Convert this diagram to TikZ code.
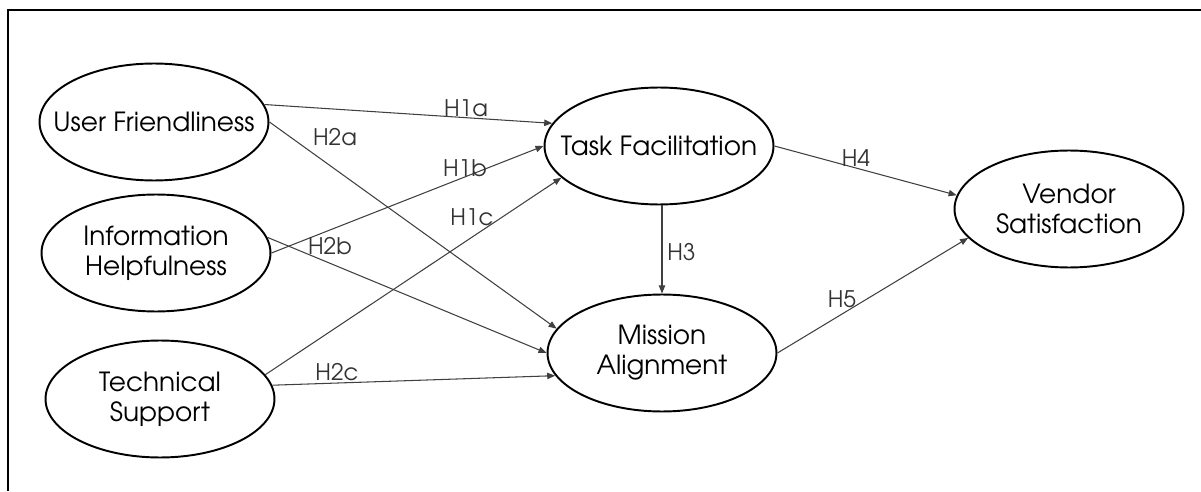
\documentclass[tikz,border=0pt]{standalone}
\usepackage{fontspec}
\setmainfont{TeX Gyre Adventor}
\usetikzlibrary{shapes.geometric,arrows.meta}

\tikzset{
  construct/.style={ellipse, draw, line width=1.1pt, minimum width=4.58cm,
    minimum height=2.34cm, inner xsep=-22pt, inner ysep=0pt, align=center,
    font=\fontsize{15}{17}\selectfont},
  link/.style={-{Triangle[length=4.6pt,width=3.6pt]}, line width=0.6pt, draw=black!75},
  hyp/.style={inner sep=0pt, text=black!80, font=\fontsize{13}{15}\selectfont}
}

\begin{document}
\begin{tikzpicture}[x=0.02cm,y=0.02cm]
  \useasboundingbox (0,0) rectangle (1201,491);
  % frame
  \draw[line width=1.1pt] (8,0) -- (8,481) -- (1201,481);
  % constructs
  \node[construct] (uf) at (154,369) {User Friendliness};
  \node[construct] (ih) at (156,238) {Information\\Helpfulness};
  \node[construct] (ts) at (160,92) {Technical\\Support};
  \node[construct] (tf) at (659,345) {Task Facilitation};
  \node[construct] (ma) at (662,138) {Mission\\Alignment};
  \node[construct] (vs) at (1069,282) {Vendor\\Satisfaction};
  % hypotheses
  \draw[link] (uf.9) -- (tf.168);
  \draw[link] (uf.east) -- (ma.167);
  \draw[link] (ih.east) -- (tf.west);
  \draw[link] (ih.8) -- (ma.west);
  \draw[link] (ts.13) -- (tf.198);
  \draw[link] (ts.7) -- (ma.192);
  \draw[link] (tf.south -| ma.north) -- (ma.north);
  \draw[link] (tf.east) -- (vs.173);
  \draw[link] (ma.east) -- (vs.196);
  % labels
  \node[hyp] (h1a) at (466,383) {H1a};
  \node[hyp] (h2a) at (335,354) {H2a};
  \node[hyp] (h1b) at (465,323) {H1b};
  \node[hyp] (h2b) at (330,245) {H2b};
  \node[hyp] (h1c) at (472,274) {H1c};
  \node[hyp] (h2c) at (337,119) {H2c};
  \node[hyp, anchor=west] (h3) at (667,239) {H3};
  \node[hyp] (h4) at (856,333) {H4};
  \node[hyp] (h5) at (842,192) {H5};
\end{tikzpicture}
\end{document}
